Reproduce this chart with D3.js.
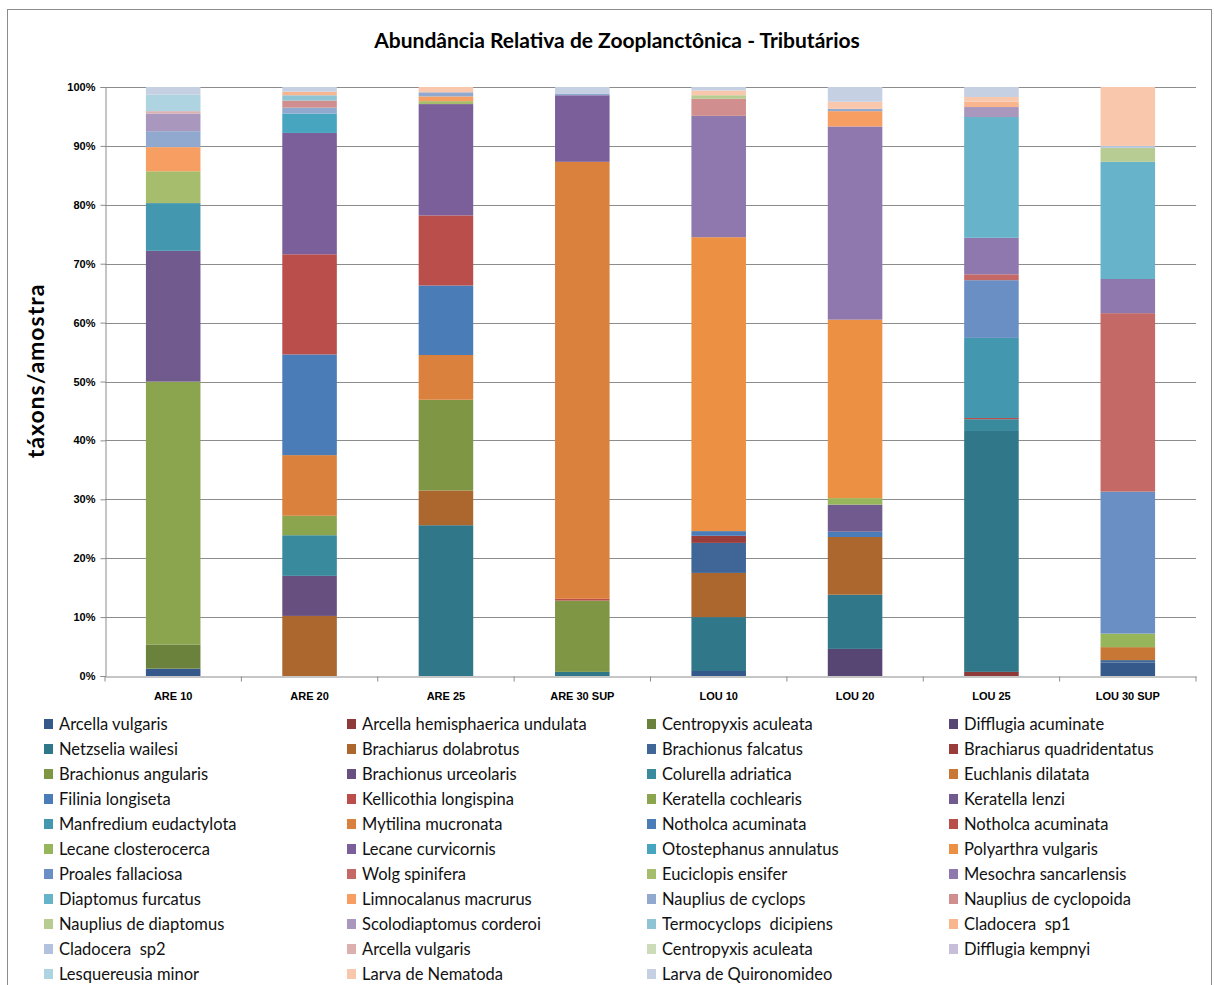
<!DOCTYPE html>
<html lang="pt">
<head>
<meta charset="utf-8">
<title>Abundância Relativa de Zooplanctônica - Tributários</title>
<script src="https://cdnjs.cloudflare.com/ajax/libs/d3/7.8.5/d3.min.js"></script>
<style>
  body { margin: 0; background: #fff; }
  svg { font-family: Lato, "Open Sans", sans-serif; }
  .grid line { stroke: #8c8c8c; stroke-width: 1; }
  .axis path, .axis line { stroke: #8c8c8c; }
  .axis text { font-size: 11px; font-weight: bold; fill: #000; }
  .legend text { font-size: 16.5px; fill: #111; white-space: pre; }
</style>
</head>
<body>
<svg width="1214" height="985"></svg>
<script>
// categories (sites)
var categories = ["ARE 10", "ARE 20", "ARE 25", "ARE 30 SUP", "LOU 10", "LOU 20", "LOU 25", "LOU 30 SUP"];

// series names, in legend / stacking order
var seriesNames = [
  "Arcella vulgaris", "Arcella hemisphaerica undulata", "Centropyxis aculeata", "Difflugia acuminate",
  "Netzselia wailesi", "Brachiarus dolabrotus", "Brachionus falcatus", "Brachiarus quadridentatus",
  "Brachionus angularis", "Brachionus urceolaris", "Colurella adriatica", "Euchlanis dilatata",
  "Filinia longiseta", "Kellicothia longispina", "Keratella cochlearis", "Keratella lenzi",
  "Manfredium eudactylota", "Mytilina mucronata", "Notholca acuminata", "Notholca acuminata",
  "Lecane closterocerca", "Lecane curvicornis", "Otostephanus annulatus", "Polyarthra vulgaris",
  "Proales fallaciosa", "Wolg spinifera", "Euciclopis ensifer", "Mesochra sancarlensis",
  "Diaptomus furcatus", "Limnocalanus macrurus", "Nauplius de cyclops", "Nauplius de cyclopoida",
  "Nauplius de diaptomus", "Scolodiaptomus corderoi", "Termocyclops  dicipiens", "Cladocera  sp1",
  "Cladocera  sp2", "Arcella vulgaris", "Centropyxis aculeata", "Difflugia kempnyi",
  "Lesquereusia minor", "Larva de Nematoda", "Larva de Quironomideo"
];

var seriesColors = [
  "#35598a", "#8e3a38", "#6a823c", "#574573",
  "#31778a", "#ab672e", "#3f6697", "#9a3d3a",
  "#7f9644", "#67507f", "#3a8a9e", "#c87734",
  "#4a7db8", "#bb4e4b", "#8aa54e", "#715a8e",
  "#4397af", "#da823d", "#4a7cb7", "#b94e4a",
  "#97b55a", "#7b5f9a", "#48a5bf", "#ec9144",
  "#6a8fc4", "#c56966", "#a6bd6e", "#8e78ad",
  "#66b3ca", "#f79f62", "#91a8cf", "#d08f8e",
  "#b7cc92", "#a997be", "#8fc4d5", "#f9b58d",
  "#b1c1de", "#ddb0b0", "#cddcb8", "#c7bed9",
  "#add4e0", "#f9c7ac", "#c6d0e3"
];

// relative abundance (%) per series, one value per category
var seriesValues = [
  [1.25, 0, 0, 0, 0.85, 0, 0, 2.3],
  [0, 0, 0, 0, 0, 0, 0.7, 0],
  [4.1, 0, 0, 0, 0, 0, 0, 0],
  [0, 0, 0, 0, 0, 4.6, 0, 0],
  [0, 0, 25.6, 0.7, 9.15, 9.2, 40.9, 0],
  [0, 10.2, 5.9, 0, 7.5, 9.8, 0, 0],
  [0, 0, 0, 0, 5.1, 0, 0, 0.4],
  [0, 0, 0, 0, 1.2, 0, 0, 0],
  [0, 0, 15.4, 12.1, 0, 0, 0, 0],
  [0, 6.8, 0, 0, 0, 0, 0, 0],
  [0, 6.9, 0, 0, 0, 0, 2.0, 0],
  [0, 0, 0, 0, 0, 0, 0, 2.2],
  [0, 0, 0, 0, 0.8, 0.9, 0, 0],
  [0, 0, 0, 0.3, 0, 0, 0.2, 0],
  [44.6, 3.3, 0, 0, 0, 0, 0, 0],
  [22.2, 0, 0, 0, 0, 4.6, 0, 0],
  [8.1, 0, 0, 0, 0, 0, 13.6, 0],
  [0, 10.3, 7.6, 74.2, 0, 0, 0, 0],
  [0, 17.1, 11.8, 0, 0, 0, 0, 0],
  [0, 17.0, 11.9, 0, 0, 0, 0, 0],
  [0, 0, 0, 0, 0, 1.1, 0, 2.3],
  [0, 20.6, 18.9, 11.3, 0, 0, 0, 0],
  [0, 3.3, 0, 0, 0, 0, 0, 0],
  [0, 0, 0, 0, 49.9, 30.3, 0, 0],
  [0, 0, 0, 0, 0, 0, 9.8, 24.1],
  [0, 0, 0, 0, 0, 0, 1.0, 30.3],
  [5.4, 0, 0.5, 0, 0, 0, 0, 0],
  [0, 0, 0, 0, 20.6, 32.8, 6.2, 5.8],
  [0, 0, 0, 0, 0, 0, 20.5, 19.9],
  [4.1, 0, 0.8, 0, 0, 2.6, 0, 0],
  [2.7, 1.0, 0.7, 0.3, 0, 0.4, 0, 0],
  [0, 1.2, 0, 0, 2.9, 0, 0, 0],
  [0, 0, 0, 0, 0.6, 0, 0, 2.4],
  [3.0, 0, 0, 0, 0, 0, 1.7, 0],
  [0, 0.9, 0, 0, 0, 0, 0, 0],
  [0, 0.6, 0, 0, 0, 0, 0.9, 0],
  [0, 0, 0, 0, 0, 0, 0, 0.3],
  [0.4, 0, 0, 0, 0, 0, 0, 0],
  [0, 0, 0, 0, 0, 0, 0, 0],
  [0, 0, 0, 0, 0, 0, 0, 0],
  [2.8, 0, 0, 0, 0, 0, 0, 0],
  [0, 0, 0.9, 0, 0.8, 1.2, 0.8, 10.0],
  [1.3, 0.8, 0, 1.1, 0.6, 2.5, 1.7, 0]
];

var yTicks = [0, 0.1, 0.2, 0.3, 0.4, 0.5, 0.6, 0.7, 0.8, 0.9, 1];

var svg = d3.select("svg");
var plot = {left: 105, right: 1196, top: 87, bottom: 676};

// chart border
svg.append("rect")
  .attr("x", 7.5).attr("y", 9.5)
  .attr("width", 1204).attr("height", 1000)
  .attr("fill", "none").attr("stroke", "#8c8c8c");

// table rows for the stack: one object per category, normalized to 100%
var keys = seriesNames.map(function(d, i) { return "s" + i; });
var table = categories.map(function(c, j) {
  var row = {cat: c}, total = 0;
  seriesValues.forEach(function(v) { total += v[j]; });
  seriesValues.forEach(function(v, i) { row["s" + i] = v[j] / total; });
  return row;
});
var stacked = d3.stack().keys(keys)(table);

var x = d3.scaleBand().domain(categories).range([plot.left, plot.right]);
var y = d3.scaleLinear().domain([0, 1]).range([plot.bottom, plot.top]);
var barW = x.bandwidth() / 2.5;

// gridlines
svg.append("g").attr("class", "grid")
  .selectAll("line").data(yTicks.slice(1)).enter().append("line")
  .attr("x1", plot.left).attr("x2", plot.right)
  .attr("y1", function(d) { return Math.round(y(d)) + 0.5; })
  .attr("y2", function(d) { return Math.round(y(d)) + 0.5; });

// bars
svg.append("g").selectAll("g").data(stacked).enter().append("g")
  .attr("fill", function(d, i) { return seriesColors[i]; })
  .selectAll("rect").data(function(d) { return d; }).enter().append("rect")
  .attr("x", function(d) { return x(d.data.cat) + (x.bandwidth() - barW) / 2; })
  .attr("y", function(d) { return y(d[1]); })
  .attr("width", barW)
  .attr("height", function(d) { return Math.max(0, y(d[0]) - y(d[1])); });

// y axis
svg.append("g").attr("class", "axis")
  .attr("transform", "translate(" + (plot.left + 0.5) + ",0)")
  .call(d3.axisLeft(y).tickValues(yTicks).tickFormat(d3.format(".0%")).tickSize(5).tickPadding(5));

// x axis: ticks sit on the band boundaries
var xAxis = svg.append("g").attr("class", "axis")
  .attr("transform", "translate(0," + (plot.bottom + 0.5) + ")")
  .call(d3.axisBottom(x).tickSize(0).tickPadding(16));
xAxis.selectAll(".sep").data(categories.concat([null])).enter().append("line")
  .attr("class", "sep")
  .attr("x1", function(d, i) { return plot.left + i * x.bandwidth(); })
  .attr("x2", function(d, i) { return plot.left + i * x.bandwidth(); })
  .attr("y1", 0).attr("y2", 5);

// title
svg.append("text")
  .attr("x", 617).attr("y", 48)
  .attr("text-anchor", "middle")
  .style("font-size", "21px").style("font-weight", "bold")
  .text("Abundância Relativa de Zooplanctônica - Tributários");

// y axis title
svg.append("text")
  .attr("transform", "translate(44,371) rotate(-90)")
  .attr("text-anchor", "middle")
  .style("font-size", "23px").style("font-weight", "bold")
  .style("letter-spacing", "1px")
  .text("táxons/amostra");

// legend, 4 columns, row-major
var colX = [44, 347, 647, 949];
var legend = svg.append("g").attr("class", "legend")
  .selectAll("g").data(seriesNames).enter().append("g")
  .attr("transform", function(d, i) {
    return "translate(" + colX[i % 4] + "," + (724 + Math.floor(i / 4) * 25) + ")";
  });
legend.append("rect")
  .attr("x", 0).attr("y", -5).attr("width", 9).attr("height", 10)
  .attr("fill", function(d, i) { return seriesColors[i]; });
legend.append("text")
  .attr("x", 15).attr("dy", "0.35em")
  .text(function(d) { return d; });
</script>
</body>
</html>
